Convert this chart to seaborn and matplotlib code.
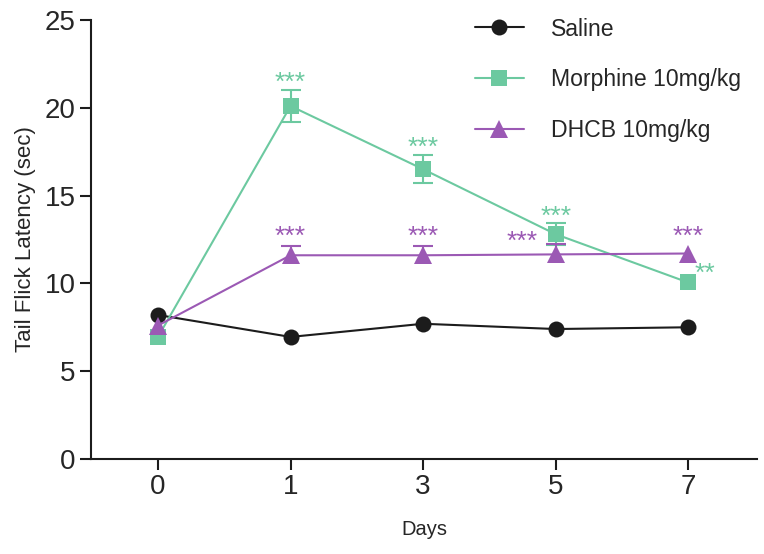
import numpy as np
import pandas as pd
import matplotlib
matplotlib.use("Agg")
import matplotlib.pyplot as plt
import seaborn as sns
from matplotlib.lines import Line2D

# --- DATA ---
days = ["0", "1", "3", "5", "7"]
groups = ["Saline", "Morphine 10mg/kg", "DHCB 10mg/kg"]

saline_mean = [8.2, 6.95, 7.7, 7.4, 7.5]
saline_sem = [0, 0, 0, 0, 0]
morphine_mean = [6.95, 20.1, 16.5, 12.8, 10.05]
morphine_sem = [0, 0.9, 0.8, 0.62, 0]
dhcb_mean = [7.6, 11.6, 11.6, 11.65, 11.7]
dhcb_sem = [0, 0.55, 0.55, 0.62, 0]

morphine_stars = ["", "***", "***", "***", "**"]
dhcb_stars = ["", "***", "***", "***", "***"]

# --- STYLE ---
colors = {"Saline": "#1c1c1c", "Morphine 10mg/kg": "#6cc9a0", "DHCB 10mg/kg": "#9b59b4"}
markers = {"Saline": "o", "Morphine 10mg/kg": "s", "DHCB 10mg/kg": "^"}
msize = {"Saline": 11.5, "Morphine 10mg/kg": 12, "DHCB 10mg/kg": 13}
err_up_only = {"Saline": False, "Morphine 10mg/kg": False, "DHCB 10mg/kg": True}

sns.set_style("ticks")
plt.rcParams["font.family"] = ["Liberation Sans", "DejaVu Sans"]

rows = []
for g, means, sems in [(groups[0], saline_mean, saline_sem),
                       (groups[1], morphine_mean, morphine_sem),
                       (groups[2], dhcb_mean, dhcb_sem)]:
    for i, d in enumerate(days):
        rows.append({"group": g, "pos": i, "day": d, "mean": means[i], "sem": sems[i]})
df = pd.DataFrame(rows)

fig = plt.figure(figsize=(7.64, 5.54), dpi=100)
ax = fig.add_axes([0.119, 0.1715, 0.872, 0.7925])

# error bars (only where they show past the marker)
for g in groups:
    sub = df[(df["group"] == g) & (df["sem"] > 0)]
    if sub.empty:
        continue
    lower = np.zeros(len(sub)) if err_up_only[g] else sub["sem"].values
    _, caps, _ = ax.errorbar(sub["pos"], sub["mean"], yerr=[lower, sub["sem"].values],
                             fmt="none", ecolor=colors[g], elinewidth=1.5,
                             capsize=7, capthick=1.5, zorder=2)
    if err_up_only[g]:
        caps[0].set_visible(False)

sns.lineplot(data=df, x="pos", y="mean", hue="group", style="group",
             hue_order=groups, style_order=groups, palette=colors,
             markers=markers, dashes=False, linewidth=1.5,
             markeredgewidth=0, ax=ax, zorder=3, legend=False)
for line, g in zip(ax.lines[-3:], groups):
    line.set_markersize(msize[g])

# significance stars
star_fs = 19
for i in range(len(days)):
    s = morphine_stars[i]
    if s:
        c = colors[groups[1]]
        if i == 4:
            ax.annotate(s, (i, morphine_mean[i]), xytext=(12, 6), textcoords="offset points",
                        ha="center", va="center", color=c, fontsize=star_fs)
        else:
            ax.annotate(s, (i, morphine_mean[i] + morphine_sem[i]), xytext=(0, 5),
                        textcoords="offset points", ha="center", va="center",
                        color=c, fontsize=star_fs)
    s = dhcb_stars[i]
    if s:
        c = colors[groups[2]]
        if i == 3:
            ax.annotate(s, (i, dhcb_mean[i]), xytext=(-24, 9), textcoords="offset points",
                        ha="center", va="center", color=c, fontsize=star_fs)
        elif i == 4:
            ax.annotate(s, (i, dhcb_mean[i]), xytext=(0, 12), textcoords="offset points",
                        ha="center", va="center", color=c, fontsize=star_fs)
        else:
            ax.annotate(s, (i, dhcb_mean[i] + dhcb_sem[i]), xytext=(0, 6),
                        textcoords="offset points", ha="center", va="center",
                        color=c, fontsize=star_fs)

ax.set_xlim(-0.506, 4.52)
ax.set_ylim(0, 25)
ax.set_xticks(range(len(days)))
ax.set_xticklabels(days)
ax.set_yticks([0, 5, 10, 15, 20, 25])
ax.tick_params(axis="both", labelsize=20, length=8, width=1.5, pad=3, color="#1c1c1c")
ax.set_xlabel("Days", fontsize=14.5, labelpad=14)
ax.set_ylabel("Tail Flick Latency (sec)", fontsize=16, labelpad=6)
sns.despine(ax=ax)
for sp in ["left", "bottom"]:
    ax.spines[sp].set_linewidth(1.5)
    ax.spines[sp].set_color("#1c1c1c")

# legend
handles = [Line2D([], [], color=colors[g], marker=markers[g], markersize=msize[g],
                  markeredgewidth=0, linewidth=1.5) for g in groups]
fig.legend(handles, groups, loc="upper left", bbox_to_anchor=(0.61, 0.985),
           frameon=False, fontsize=16.6, handlelength=2.1, handletextpad=1.2,
           labelspacing=1.2, borderaxespad=0)

fig.savefig("out.png", dpi=100)
